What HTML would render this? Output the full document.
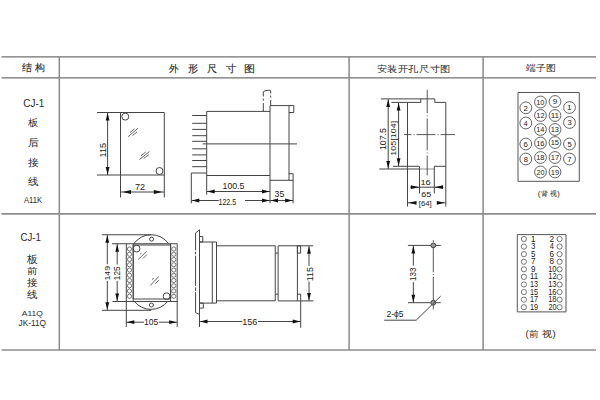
<!DOCTYPE html>
<html><head><meta charset="utf-8"><style>
html,body{margin:0;padding:0;background:#fff;width:600px;height:400px;overflow:hidden}
svg{display:block}
text{font-family:"Liberation Sans", sans-serif}
</style></head><body>
<svg width="600" height="400" viewBox="0 0 600 400">
<line x1="1.5" y1="56.9" x2="596" y2="56.9" stroke="#707070" stroke-width="1.3"/>
<line x1="1.5" y1="77.9" x2="596" y2="77.9" stroke="#707070" stroke-width="1.3"/>
<line x1="1.5" y1="213.9" x2="596" y2="213.9" stroke="#8e8e8e" stroke-width="1.7"/>
<line x1="1.5" y1="350" x2="596" y2="350" stroke="#8e8e8e" stroke-width="1.7"/>
<line x1="59.3" y1="56.8" x2="59.3" y2="350" stroke="#8a8a8a" stroke-width="1.5"/>
<line x1="349.1" y1="56.8" x2="349.1" y2="350" stroke="#8a8a8a" stroke-width="1.5"/>
<line x1="483.1" y1="56.8" x2="483.1" y2="350" stroke="#8a8a8a" stroke-width="1.5"/>
<text transform="translate(21.90,71.46) scale(0.996,1)" font-size="10.32" fill="#2a2a2a" stroke="#2a2a2a" stroke-width="0.15">结 构</text>
<text transform="translate(169.40,71.79) scale(0.954,1)" font-size="10.05" fill="#2a2a2a" stroke="#2a2a2a" stroke-width="0.15">外</text>
<text transform="translate(188.35,71.51) scale(1.016,1)" font-size="9.95" fill="#2a2a2a" stroke="#2a2a2a" stroke-width="0.15">形</text>
<text transform="translate(207.09,71.77) scale(0.994,1)" font-size="10.28" fill="#2a2a2a" stroke="#2a2a2a" stroke-width="0.15">尺</text>
<text transform="translate(225.55,71.73) scale(1.016,1)" font-size="9.74" fill="#2a2a2a" stroke="#2a2a2a" stroke-width="0.15">寸</text>
<text transform="translate(243.59,71.77) scale(1.103,1)" font-size="10.28" fill="#2a2a2a" stroke="#2a2a2a" stroke-width="0.15">图</text>
<text transform="translate(376.59,71.76) scale(1.140,1)" font-size="8.89" fill="#2a2a2a">安装开孔尺寸图</text>
<text transform="translate(525.50,71.28) scale(1.087,1)" font-size="9.36" fill="#2a2a2a">端子图</text>
<text transform="translate(23.25,106.80) scale(0.948,1)" font-size="10.57" fill="#2a2a2a">CJ-1</text>
<text transform="translate(28.00,125.57) scale(1.020,1)" font-size="10.21" fill="#2a2a2a">板</text>
<text transform="translate(27.68,145.81) scale(1.087,1)" font-size="9.89" fill="#2a2a2a">后</text>
<text transform="translate(27.89,165.64) scale(1.086,1)" font-size="9.69" fill="#2a2a2a">接</text>
<text transform="translate(27.89,185.20) scale(1.053,1)" font-size="10.00" fill="#2a2a2a">线</text>
<text transform="translate(23.90,202.50) scale(0.784,1)" font-size="9.78" fill="#2a2a2a">A11K</text>
<line x1="97" y1="112.5" x2="164.3" y2="112.5" stroke="#444" stroke-width="1.0"/>
<line x1="97" y1="175" x2="164.3" y2="175" stroke="#444" stroke-width="1.0"/>
<line x1="120.5" y1="112.5" x2="120.5" y2="197.5" stroke="#444" stroke-width="1.0"/>
<line x1="164.3" y1="112.5" x2="164.3" y2="197.5" stroke="#444" stroke-width="1.0"/>
<line x1="107.6" y1="112.5" x2="107.6" y2="175" stroke="#444" stroke-width="1.0"/>
<polygon points="107.6,113.0 109.50,120.50 105.70,120.50" fill="#111"/>
<polygon points="107.6,174.5 105.70,167.00 109.50,167.00" fill="#111"/>
<text transform="translate(106.25,157.48) rotate(-90) scale(1.009,1)" font-size="9.07" fill="#222">115</text>
<circle cx="125.25" cy="116.6" r="3.5" fill="none" stroke="#444" stroke-width="1.0"/>
<circle cx="159.5" cy="171" r="3.5" fill="none" stroke="#444" stroke-width="1.0"/>
<line x1="128" y1="136.75" x2="138" y2="128.25" stroke="#555" stroke-width="0.9"/>
<line x1="130" y1="132.5" x2="134.5" y2="129" stroke="#555" stroke-width="0.9"/>
<line x1="132.5" y1="135.5" x2="137" y2="132" stroke="#555" stroke-width="0.9"/>
<line x1="139.5" y1="159.5" x2="149.5" y2="151.5" stroke="#555" stroke-width="0.9"/>
<line x1="141" y1="155.75" x2="145.75" y2="152" stroke="#555" stroke-width="0.9"/>
<line x1="143.75" y1="158.5" x2="148.75" y2="154.75" stroke="#555" stroke-width="0.9"/>
<line x1="120.5" y1="192" x2="164.3" y2="192" stroke="#444" stroke-width="1.0"/>
<polygon points="122.5,192 131.00,190.10 131.00,193.90" fill="#111"/>
<polygon points="162.3,192 153.80,193.90 153.80,190.10" fill="#111"/>
<text transform="translate(135.04,190.30) scale(1.012,1)" font-size="9.00" fill="#222">72</text>
<line x1="192.2" y1="115.5" x2="206.7" y2="115.5" stroke="#444" stroke-width="1.0"/>
<line x1="192.2" y1="123.3" x2="206.7" y2="123.3" stroke="#444" stroke-width="1.0"/>
<line x1="192.2" y1="129.4" x2="206.7" y2="129.4" stroke="#444" stroke-width="1.0"/>
<line x1="192.2" y1="135.7" x2="206.7" y2="135.7" stroke="#444" stroke-width="1.0"/>
<line x1="192.2" y1="141.3" x2="206.7" y2="141.3" stroke="#444" stroke-width="1.0"/>
<line x1="192.2" y1="148.8" x2="206.7" y2="148.8" stroke="#444" stroke-width="1.0"/>
<line x1="192.2" y1="154.9" x2="206.7" y2="154.9" stroke="#444" stroke-width="1.0"/>
<line x1="192.2" y1="160.5" x2="206.7" y2="160.5" stroke="#444" stroke-width="1.0"/>
<line x1="192.2" y1="166.7" x2="206.7" y2="166.7" stroke="#444" stroke-width="1.0"/>
<line x1="191.3" y1="173" x2="206.7" y2="173" stroke="#444" stroke-width="1.0"/>
<line x1="191.3" y1="173" x2="191.3" y2="203.3" stroke="#444" stroke-width="1.0"/>
<line x1="206.7" y1="111.4" x2="206.7" y2="194.7" stroke="#444" stroke-width="1.0"/>
<line x1="206.7" y1="111.4" x2="270" y2="111.4" stroke="#444" stroke-width="1.0"/>
<line x1="206.7" y1="175.5" x2="270" y2="175.5" stroke="#444" stroke-width="1.0"/>
<line x1="270" y1="105.6" x2="270" y2="203.3" stroke="#444" stroke-width="1.0"/>
<line x1="270" y1="105.6" x2="293.8" y2="105.6" stroke="#444" stroke-width="1.0"/>
<line x1="289" y1="105.6" x2="289" y2="180.3" stroke="#444" stroke-width="1.0"/>
<line x1="293.8" y1="105.6" x2="293.8" y2="112.5" stroke="#444" stroke-width="1.0"/>
<line x1="289" y1="112.5" x2="293.8" y2="112.5" stroke="#444" stroke-width="1.0"/>
<line x1="289" y1="173.7" x2="293.1" y2="173.7" stroke="#444" stroke-width="1.0"/>
<line x1="293.1" y1="173.7" x2="293.1" y2="203.3" stroke="#444" stroke-width="1.0"/>
<line x1="270" y1="180.3" x2="293.1" y2="180.3" stroke="#444" stroke-width="1.0"/>
<path d="M263.3,96.5 V92 Q263.6,90.9 266,90.6 Q268.5,90.1 270.2,90.3 Q270.7,90.5 270.7,92 V93.5" fill="none" stroke="#444" stroke-width="1"/>
<line x1="263.3" y1="98.6" x2="263.3" y2="100.6" stroke="#444" stroke-width="1.0"/>
<line x1="263.3" y1="103" x2="263.3" y2="111.4" stroke="#444" stroke-width="1.0"/>
<line x1="270.7" y1="95.5" x2="270.7" y2="97.5" stroke="#444" stroke-width="1.0"/>
<line x1="270.7" y1="100" x2="270.7" y2="105.6" stroke="#444" stroke-width="1.0"/>
<line x1="202.7" y1="143.9" x2="297" y2="143.9" stroke="#444" stroke-width="1.0"/>
<line x1="206.7" y1="191.5" x2="270" y2="191.5" stroke="#444" stroke-width="1.0"/>
<polygon points="207.2,191.5 214.70,189.60 214.70,193.40" fill="#111"/>
<polygon points="269.5,191.5 262.00,193.40 262.00,189.60" fill="#111"/>
<text transform="translate(222.60,189.30) scale(1.015,1)" font-size="8.57" fill="#222">100.5</text>
<line x1="191.3" y1="200.5" x2="218.7" y2="200.5" stroke="#444" stroke-width="1.0"/>
<line x1="245" y1="200.5" x2="270" y2="200.5" stroke="#444" stroke-width="1.0"/>
<polygon points="191.8,200.5 199.30,198.60 199.30,202.40" fill="#111"/>
<polygon points="269.5,200.5 262.00,202.40 262.00,198.60" fill="#111"/>
<text transform="translate(218.43,204.70) scale(0.781,1)" font-size="9.14" fill="#222">122.5</text>
<line x1="270" y1="200.5" x2="293.1" y2="200.5" stroke="#444" stroke-width="1.0"/>
<polygon points="270.5,200.5 278.00,198.60 278.00,202.40" fill="#111"/>
<polygon points="292.6,200.5 285.10,202.40 285.10,198.60" fill="#111"/>
<text transform="translate(274.55,197.30) scale(1.037,1)" font-size="8.43" fill="#222">35</text>
<line x1="380.9" y1="98.9" x2="434.8" y2="98.9" stroke="#444" stroke-width="1.0"/>
<polyline points="434.8,98.9 434.8,102.4 445.8,102.4 445.8,206.5" fill="none" stroke="#444" stroke-width="1.0"/>
<polyline points="391.4,102.4 420.8,102.4 420.8,98.9" fill="none" stroke="#444" stroke-width="1.0"/>
<line x1="407.5" y1="102.4" x2="407.5" y2="206.5" stroke="#444" stroke-width="1.0"/>
<line x1="427.2" y1="89.8" x2="427.2" y2="113.2" stroke="#444" stroke-width="0.9"/>
<line x1="427.2" y1="115.4" x2="427.2" y2="116.4" stroke="#444" stroke-width="0.9"/>
<line x1="427.2" y1="118.4" x2="427.2" y2="150.3" stroke="#444" stroke-width="0.9"/>
<line x1="427.2" y1="152.5" x2="427.2" y2="153.5" stroke="#444" stroke-width="0.9"/>
<line x1="427.2" y1="155.5" x2="427.2" y2="175.5" stroke="#444" stroke-width="0.9"/>
<line x1="404" y1="134.6" x2="411.5" y2="134.6" stroke="#444" stroke-width="0.9"/>
<line x1="413.5" y1="134.6" x2="414.5" y2="134.6" stroke="#444" stroke-width="0.9"/>
<line x1="416.5" y1="134.6" x2="435.5" y2="134.6" stroke="#444" stroke-width="0.9"/>
<line x1="437.5" y1="134.6" x2="438.5" y2="134.6" stroke="#444" stroke-width="0.9"/>
<line x1="440.5" y1="134.6" x2="455" y2="134.6" stroke="#444" stroke-width="0.9"/>
<line x1="379.3" y1="169" x2="420" y2="169" stroke="#444" stroke-width="1.0"/>
<line x1="420" y1="169" x2="434.3" y2="169" stroke="#444" stroke-width="0.6"/>
<polyline points="393,166.3 419.5,166.3 419.5,193.4" fill="none" stroke="#444" stroke-width="1.0"/>
<polyline points="445.5,166.3 434.3,166.3 434.3,193.4" fill="none" stroke="#444" stroke-width="1.0"/>
<line x1="388.2" y1="99" x2="388.2" y2="169" stroke="#444" stroke-width="1.0"/>
<polygon points="388.2,99.5 390.10,107.00 386.30,107.00" fill="#111"/>
<polygon points="388.2,168.5 386.30,161.00 390.10,161.00" fill="#111"/>
<line x1="398.6" y1="102.4" x2="398.6" y2="166.3" stroke="#444" stroke-width="1.0"/>
<polygon points="398.6,102.9 400.50,110.40 396.70,110.40" fill="#111"/>
<polygon points="398.6,165.8 396.70,158.30 400.50,158.30" fill="#111"/>
<text transform="translate(386.25,150.00) rotate(-90) scale(1.046,1)" font-size="8.36" fill="#222">107.5</text>
<text transform="translate(395.80,155.72) rotate(-90) scale(1.120,1)" font-size="8.00" fill="#222">105[104]</text>
<line x1="410.3" y1="187.2" x2="443.5" y2="187.2" stroke="#444" stroke-width="1.0"/>
<polygon points="419.3,187.2 410.80,189.10 410.80,185.30" fill="#111"/>
<polygon points="434.5,187.2 443.00,185.30 443.00,189.10" fill="#111"/>
<text transform="translate(420.46,185.30) scale(1.183,1)" font-size="7.86" fill="#222">16</text>
<text transform="translate(421.15,196.90) scale(1.191,1)" font-size="7.57" fill="#222">65</text>
<line x1="408" y1="202.8" x2="416.5" y2="202.8" stroke="#444" stroke-width="1.0"/>
<line x1="437" y1="202.8" x2="445.6" y2="202.8" stroke="#444" stroke-width="1.0"/>
<polygon points="408.5,202.8 416.50,200.90 416.50,204.70" fill="#111"/>
<polygon points="444.8,202.8 436.80,204.70 436.80,200.90" fill="#111"/>
<text transform="translate(418.86,206.15) scale(0.984,1)" font-size="7.87" fill="#222">[64]</text>
<polyline points="518,92.5 579.3,92.5 579.3,181.3 518,181.3 518,92.5" fill="none" stroke="#555" stroke-width="1.0"/>
<circle cx="540.5" cy="102" r="5.9" fill="none" stroke="#555" stroke-width="0.9"/>
<text transform="translate(536.20,104.90) scale(0.951,1)" font-size="7.86" fill="#222">10</text>
<circle cx="555" cy="101.5" r="5.9" fill="none" stroke="#555" stroke-width="0.9"/>
<text transform="translate(552.81,104.40) scale(0.996,1)" font-size="7.86" fill="#222">9</text>
<circle cx="525.8" cy="107.8" r="5.9" fill="none" stroke="#555" stroke-width="0.9"/>
<text transform="translate(523.61,110.70) scale(0.996,1)" font-size="7.86" fill="#222">2</text>
<circle cx="569.5" cy="107.5" r="5.9" fill="none" stroke="#555" stroke-width="0.9"/>
<text transform="translate(567.03,110.40) scale(1.066,1)" font-size="7.86" fill="#222">1</text>
<circle cx="540.5" cy="115.5" r="5.9" fill="none" stroke="#555" stroke-width="0.9"/>
<text transform="translate(536.20,118.40) scale(0.961,1)" font-size="7.86" fill="#222">12</text>
<circle cx="555" cy="115.5" r="5.9" fill="none" stroke="#555" stroke-width="0.9"/>
<text transform="translate(550.65,118.40) scale(1.035,1)" font-size="7.86" fill="#222">11</text>
<circle cx="525.8" cy="123" r="5.9" fill="none" stroke="#555" stroke-width="0.9"/>
<text transform="translate(523.86,125.90) scale(0.898,1)" font-size="7.86" fill="#222">4</text>
<circle cx="569.5" cy="122.5" r="5.9" fill="none" stroke="#555" stroke-width="0.9"/>
<text transform="translate(567.39,125.40) scale(0.975,1)" font-size="7.86" fill="#222">3</text>
<circle cx="540.5" cy="129.5" r="5.9" fill="none" stroke="#555" stroke-width="0.9"/>
<text transform="translate(536.21,132.40) scale(0.942,1)" font-size="7.86" fill="#222">14</text>
<circle cx="555" cy="129.5" r="5.9" fill="none" stroke="#555" stroke-width="0.9"/>
<text transform="translate(550.70,132.40) scale(0.951,1)" font-size="7.86" fill="#222">13</text>
<circle cx="540.5" cy="143" r="5.9" fill="none" stroke="#555" stroke-width="0.9"/>
<text transform="translate(536.20,145.90) scale(0.951,1)" font-size="7.86" fill="#222">16</text>
<circle cx="555" cy="142.5" r="5.9" fill="none" stroke="#555" stroke-width="0.9"/>
<text transform="translate(550.70,145.40) scale(0.951,1)" font-size="7.86" fill="#222">15</text>
<circle cx="525.8" cy="144" r="5.9" fill="none" stroke="#555" stroke-width="0.9"/>
<text transform="translate(523.61,146.90) scale(0.996,1)" font-size="7.86" fill="#222">6</text>
<circle cx="569.5" cy="144" r="5.9" fill="none" stroke="#555" stroke-width="0.9"/>
<text transform="translate(567.39,146.90) scale(0.975,1)" font-size="7.86" fill="#222">5</text>
<circle cx="540.5" cy="157.5" r="5.9" fill="none" stroke="#555" stroke-width="0.9"/>
<text transform="translate(536.20,160.40) scale(0.951,1)" font-size="7.86" fill="#222">18</text>
<circle cx="555" cy="157.5" r="5.9" fill="none" stroke="#555" stroke-width="0.9"/>
<text transform="translate(550.70,160.40) scale(0.961,1)" font-size="7.86" fill="#222">17</text>
<circle cx="525.8" cy="159" r="5.9" fill="none" stroke="#555" stroke-width="0.9"/>
<text transform="translate(523.69,161.90) scale(0.975,1)" font-size="7.86" fill="#222">8</text>
<circle cx="569.5" cy="159" r="5.9" fill="none" stroke="#555" stroke-width="0.9"/>
<text transform="translate(567.31,161.90) scale(0.996,1)" font-size="7.86" fill="#222">7</text>
<circle cx="540.5" cy="172" r="5.9" fill="none" stroke="#555" stroke-width="0.9"/>
<text transform="translate(536.44,174.90) scale(0.923,1)" font-size="7.86" fill="#222">20</text>
<circle cx="555" cy="172" r="5.9" fill="none" stroke="#555" stroke-width="0.9"/>
<text transform="translate(550.70,174.90) scale(0.961,1)" font-size="7.86" fill="#222">19</text>
<text transform="translate(537.79,196.20) scale(1.047,1)" font-size="8.09" fill="#2a2a2a">(</text>
<text transform="translate(541.16,196.23) scale(0.987,1)" font-size="7.14" fill="#2a2a2a">背</text>
<text transform="translate(549.85,196.42) scale(1.018,1)" font-size="7.37" fill="#2a2a2a">视</text>
<text transform="translate(557.32,196.20) scale(0.951,1)" font-size="8.09" fill="#2a2a2a">)</text>
<text transform="translate(20.51,241.00) scale(0.943,1)" font-size="10.29" fill="#2a2a2a">CJ-1</text>
<text transform="translate(27.00,263.02) scale(0.979,1)" font-size="10.64" fill="#2a2a2a">板</text>
<text transform="translate(26.79,274.41) scale(1.163,1)" font-size="9.15" fill="#2a2a2a">前</text>
<text transform="translate(26.89,286.21) scale(1.064,1)" font-size="9.90" fill="#2a2a2a">接</text>
<text transform="translate(26.89,297.80) scale(1.053,1)" font-size="10.00" fill="#2a2a2a">线</text>
<text transform="translate(21.80,315.60) scale(1.045,1)" font-size="8.12" fill="#2a2a2a">A11Q</text>
<text transform="translate(18.53,325.60) scale(0.982,1)" font-size="8.43" fill="#2a2a2a">JK-11Q</text>
<line x1="101.9" y1="234.75" x2="151.25" y2="234.75" stroke="#444" stroke-width="1.0"/>
<line x1="112" y1="243.75" x2="177.25" y2="243.75" stroke="#444" stroke-width="1.0"/>
<line x1="102" y1="310.3" x2="151.25" y2="310.3" stroke="#444" stroke-width="1.0"/>
<line x1="112.5" y1="301.5" x2="177.3" y2="301.5" stroke="#444" stroke-width="1.0"/>
<line x1="107.3" y1="234.75" x2="107.3" y2="264.2" stroke="#444" stroke-width="1.0"/>
<line x1="107.3" y1="280.8" x2="107.3" y2="310.3" stroke="#444" stroke-width="1.0"/>
<polygon points="107.3,235.25 109.20,242.75 105.40,242.75" fill="#111"/>
<polygon points="107.3,309.8 105.40,302.30 109.20,302.30" fill="#111"/>
<line x1="117.2" y1="243.75" x2="117.2" y2="264.6" stroke="#444" stroke-width="1.0"/>
<line x1="117.2" y1="280.8" x2="117.2" y2="301.5" stroke="#444" stroke-width="1.0"/>
<polygon points="117.2,244.25 119.10,251.75 115.30,251.75" fill="#111"/>
<polygon points="117.2,301.0 115.30,293.50 119.10,293.50" fill="#111"/>
<text transform="translate(110.25,280.60) rotate(-90) scale(1.086,1)" font-size="8.07" fill="#222">149</text>
<text transform="translate(119.90,280.16) rotate(-90) scale(1.006,1)" font-size="8.14" fill="#222">125</text>
<line x1="126.3" y1="243.75" x2="126.3" y2="327" stroke="#444" stroke-width="1.0"/>
<line x1="177.2" y1="243.75" x2="177.2" y2="327" stroke="#444" stroke-width="1.0"/>
<line x1="133.2" y1="243.75" x2="133.2" y2="301.5" stroke="#444" stroke-width="1.0"/>
<line x1="170.6" y1="243.75" x2="170.6" y2="301.5" stroke="#444" stroke-width="1.0"/>
<polyline points="133.2,245 170.6,245 170.6,299 133.2,299 133.2,245" fill="none" stroke="#444" stroke-width="1.0"/>
<path d="M133.75,243.75 A21.5,21.5 0 0 1 168.75,243.75" fill="none" stroke="#444" stroke-width="1.0"/>
<path d="M134.4,301.5 A21.5,21.5 0 0 0 167.7,301.5" fill="none" stroke="#444" stroke-width="1.0"/>
<circle cx="151.6" cy="239.1" r="2" fill="none" stroke="#444" stroke-width="1.0"/>
<circle cx="151.4" cy="305" r="2" fill="none" stroke="#444" stroke-width="1.0"/>
<circle cx="136.6" cy="248.6" r="3.4" fill="none" stroke="#444" stroke-width="1.0"/>
<circle cx="166.6" cy="296.2" r="3.4" fill="none" stroke="#444" stroke-width="1.0"/>
<line x1="138.25" y1="259.5" x2="146.75" y2="251.25" stroke="#555" stroke-width="0.9"/>
<line x1="140" y1="254.25" x2="141.5" y2="253" stroke="#555" stroke-width="0.9"/>
<line x1="143" y1="258.5" x2="147" y2="254.5" stroke="#555" stroke-width="0.9"/>
<line x1="150.25" y1="285.5" x2="158.75" y2="276.5" stroke="#555" stroke-width="0.9"/>
<line x1="152" y1="279.5" x2="153.75" y2="278.25" stroke="#555" stroke-width="0.9"/>
<line x1="155.25" y1="283.75" x2="158.75" y2="280.25" stroke="#555" stroke-width="0.9"/>
<circle cx="129.5" cy="249.0" r="2.1" fill="none" stroke="#555" stroke-width="0.8"/>
<circle cx="173.8" cy="249.0" r="2.1" fill="none" stroke="#555" stroke-width="0.8"/>
<circle cx="129.5" cy="254.25" r="2.1" fill="none" stroke="#555" stroke-width="0.8"/>
<circle cx="173.8" cy="254.25" r="2.1" fill="none" stroke="#555" stroke-width="0.8"/>
<circle cx="129.5" cy="259.5" r="2.1" fill="none" stroke="#555" stroke-width="0.8"/>
<circle cx="173.8" cy="259.5" r="2.1" fill="none" stroke="#555" stroke-width="0.8"/>
<circle cx="129.5" cy="264.75" r="2.1" fill="none" stroke="#555" stroke-width="0.8"/>
<circle cx="173.8" cy="264.75" r="2.1" fill="none" stroke="#555" stroke-width="0.8"/>
<circle cx="129.5" cy="270.0" r="2.1" fill="none" stroke="#555" stroke-width="0.8"/>
<circle cx="173.8" cy="270.0" r="2.1" fill="none" stroke="#555" stroke-width="0.8"/>
<circle cx="129.5" cy="275.25" r="2.1" fill="none" stroke="#555" stroke-width="0.8"/>
<circle cx="173.8" cy="275.25" r="2.1" fill="none" stroke="#555" stroke-width="0.8"/>
<circle cx="129.5" cy="280.5" r="2.1" fill="none" stroke="#555" stroke-width="0.8"/>
<circle cx="173.8" cy="280.5" r="2.1" fill="none" stroke="#555" stroke-width="0.8"/>
<circle cx="129.5" cy="285.75" r="2.1" fill="none" stroke="#555" stroke-width="0.8"/>
<circle cx="173.8" cy="285.75" r="2.1" fill="none" stroke="#555" stroke-width="0.8"/>
<circle cx="129.5" cy="291.0" r="2.1" fill="none" stroke="#555" stroke-width="0.8"/>
<circle cx="173.8" cy="291.0" r="2.1" fill="none" stroke="#555" stroke-width="0.8"/>
<circle cx="129.5" cy="296.25" r="2.1" fill="none" stroke="#555" stroke-width="0.8"/>
<circle cx="173.8" cy="296.25" r="2.1" fill="none" stroke="#555" stroke-width="0.8"/>
<line x1="126.3" y1="322.2" x2="144" y2="322.2" stroke="#444" stroke-width="1.0"/>
<line x1="158.9" y1="322.2" x2="177.2" y2="322.2" stroke="#444" stroke-width="1.0"/>
<polygon points="126.8,322.2 134.30,320.30 134.30,324.10" fill="#111"/>
<polygon points="176.7,322.2 169.20,324.10 169.20,320.30" fill="#111"/>
<text transform="translate(143.91,324.80) scale(1.018,1)" font-size="8.43" fill="#222">105</text>
<line x1="199.5" y1="229.8" x2="199.5" y2="327" stroke="#444" stroke-width="1.0"/>
<line x1="195.5" y1="233" x2="199.5" y2="229.8" stroke="#444" stroke-width="1.0"/>
<line x1="195.5" y1="312.5" x2="199.5" y2="314.4" stroke="#444" stroke-width="1.0"/>
<line x1="195.6" y1="233" x2="195.6" y2="250.3" stroke="#444" stroke-width="1.0"/>
<line x1="195.6" y1="251.7" x2="195.6" y2="254.4" stroke="#444" stroke-width="1.0"/>
<line x1="195.6" y1="255.8" x2="195.6" y2="285.9" stroke="#444" stroke-width="1.0"/>
<line x1="195.6" y1="287.3" x2="195.6" y2="290.9" stroke="#444" stroke-width="1.0"/>
<line x1="195.6" y1="292.3" x2="195.6" y2="312.5" stroke="#444" stroke-width="1.0"/>
<polyline points="199.5,236.5 202.8,236.5 202.8,242 199.5,242 199.5,236.5" fill="none" stroke="#444" stroke-width="1.0"/>
<polyline points="199.5,303.1 203.3,303.1 203.3,308.1 199.5,308.1 199.5,303.1" fill="none" stroke="#444" stroke-width="1.0"/>
<polyline points="199.5,242 216.5,242 216.5,303.1 199.5,303.1 199.5,242" fill="none" stroke="#444" stroke-width="1.0"/>
<line x1="212.3" y1="242" x2="212.3" y2="303.1" stroke="#444" stroke-width="1.0"/>
<line x1="216.5" y1="245.8" x2="275.25" y2="245.8" stroke="#444" stroke-width="1.0"/>
<line x1="216.5" y1="300.8" x2="275.25" y2="300.8" stroke="#444" stroke-width="1.0"/>
<line x1="275.25" y1="245.8" x2="275.25" y2="300.8" stroke="#444" stroke-width="1.0"/>
<line x1="278.1" y1="245.8" x2="278.1" y2="300.8" stroke="#444" stroke-width="1.0"/>
<line x1="275.25" y1="253.1" x2="278.1" y2="253.1" stroke="#444" stroke-width="1.0"/>
<line x1="275.25" y1="294.2" x2="278.1" y2="294.2" stroke="#444" stroke-width="1.0"/>
<line x1="278.1" y1="245.8" x2="313.1" y2="245.8" stroke="#444" stroke-width="1.0"/>
<line x1="278.1" y1="300.9" x2="313.5" y2="300.9" stroke="#444" stroke-width="1.0"/>
<line x1="297.4" y1="245.8" x2="297.4" y2="300.9" stroke="#444" stroke-width="1.0"/>
<polyline points="297.4,245.8 300.6,245.8 300.6,253.1 297.4,253.1 297.4,245.8" fill="none" stroke="#444" stroke-width="1.0"/>
<line x1="300.7" y1="294.2" x2="300.7" y2="327.8" stroke="#444" stroke-width="1.0"/>
<line x1="297.4" y1="294.2" x2="300.7" y2="294.2" stroke="#444" stroke-width="1.0"/>
<line x1="309" y1="245.8" x2="309" y2="266" stroke="#444" stroke-width="1.0"/>
<line x1="309" y1="281.5" x2="309" y2="300.9" stroke="#444" stroke-width="1.0"/>
<polygon points="309,246.3 310.90,253.80 307.10,253.80" fill="#111"/>
<polygon points="309,300.4 307.10,292.90 310.90,292.90" fill="#111"/>
<text transform="translate(312.80,281.21) rotate(-90) scale(0.938,1)" font-size="9.43" fill="#222">115</text>
<line x1="199.5" y1="321.5" x2="242.3" y2="321.5" stroke="#444" stroke-width="1.0"/>
<line x1="258" y1="321.5" x2="300.7" y2="321.5" stroke="#444" stroke-width="1.0"/>
<polygon points="200.0,321.5 207.50,319.60 207.50,323.40" fill="#111"/>
<polygon points="300.2,321.5 292.70,323.40 292.70,319.60" fill="#111"/>
<text transform="translate(242.27,325.00) scale(1.116,1)" font-size="8.14" fill="#222">156</text>
<line x1="407.9" y1="245.4" x2="440.8" y2="245.4" stroke="#444" stroke-width="1.0"/>
<line x1="408" y1="302.7" x2="440.7" y2="302.7" stroke="#444" stroke-width="1.0"/>
<line x1="433.3" y1="240.2" x2="433.3" y2="242.3" stroke="#444" stroke-width="0.9"/>
<line x1="433.3" y1="243.3" x2="433.3" y2="272.3" stroke="#444" stroke-width="0.9"/>
<line x1="433.3" y1="274" x2="433.3" y2="275" stroke="#444" stroke-width="0.9"/>
<line x1="433.3" y1="276.7" x2="433.3" y2="309.3" stroke="#444" stroke-width="0.9"/>
<circle cx="433.3" cy="245.4" r="2.4" fill="#999" stroke="#444" stroke-width="1"/>
<circle cx="433.3" cy="302.7" r="2.4" fill="#999" stroke="#444" stroke-width="1"/>
<line x1="413.35" y1="245.4" x2="413.35" y2="265.6" stroke="#444" stroke-width="1.0"/>
<line x1="413.35" y1="282.1" x2="413.35" y2="302.7" stroke="#444" stroke-width="1.0"/>
<polygon points="413.35,245.9 415.25,253.40 411.45,253.40" fill="#111"/>
<polygon points="413.35,302.2 411.45,294.70 415.25,294.70" fill="#111"/>
<text transform="translate(416.10,280.89) rotate(-90) scale(0.936,1)" font-size="8.57" fill="#222">133</text>
<polyline points="440.7,296.1 416.2,320.2 384.2,320.2" fill="none" stroke="#444" stroke-width="1.0"/>
<text transform="translate(386.57,317.00) scale(1.036,1)" font-size="8.21" fill="#222">2-ϕ5</text>
<polyline points="517.3,234.6 566,234.6 566,311.9 517.3,311.9 517.3,234.6" fill="none" stroke="#555" stroke-width="1.0"/>
<circle cx="523.9" cy="239.0" r="2.6" fill="none" stroke="#555" stroke-width="0.8"/>
<circle cx="559.6" cy="239.0" r="2.6" fill="none" stroke="#555" stroke-width="0.8"/>
<text transform="translate(530.71,241.50) scale(1.057,1)" font-size="8.14" fill="#222">1</text>
<text transform="translate(549.39,241.50) scale(1.014,1)" font-size="8.14" fill="#222">2</text>
<circle cx="523.9" cy="246.58" r="2.6" fill="none" stroke="#555" stroke-width="0.8"/>
<circle cx="559.6" cy="246.58" r="2.6" fill="none" stroke="#555" stroke-width="0.8"/>
<text transform="translate(531.09,249.08) scale(0.967,1)" font-size="8.14" fill="#222">3</text>
<text transform="translate(549.65,249.08) scale(0.915,1)" font-size="8.14" fill="#222">4</text>
<circle cx="523.9" cy="254.16" r="2.6" fill="none" stroke="#555" stroke-width="0.8"/>
<circle cx="559.6" cy="254.16" r="2.6" fill="none" stroke="#555" stroke-width="0.8"/>
<text transform="translate(531.09,256.66) scale(0.967,1)" font-size="8.14" fill="#222">5</text>
<text transform="translate(549.39,256.66) scale(1.014,1)" font-size="8.14" fill="#222">6</text>
<circle cx="523.9" cy="261.74" r="2.6" fill="none" stroke="#555" stroke-width="0.8"/>
<circle cx="559.6" cy="261.74" r="2.6" fill="none" stroke="#555" stroke-width="0.8"/>
<text transform="translate(531.00,264.24) scale(0.988,1)" font-size="8.14" fill="#222">7</text>
<text transform="translate(549.48,264.24) scale(0.993,1)" font-size="8.14" fill="#222">8</text>
<circle cx="523.9" cy="269.32" r="2.6" fill="none" stroke="#555" stroke-width="0.8"/>
<circle cx="559.6" cy="269.32" r="2.6" fill="none" stroke="#555" stroke-width="0.8"/>
<text transform="translate(531.00,271.82) scale(0.988,1)" font-size="8.14" fill="#222">9</text>
<text transform="translate(548.20,271.82) scale(0.918,1)" font-size="8.14" fill="#222">10</text>
<circle cx="523.9" cy="276.9" r="2.6" fill="none" stroke="#555" stroke-width="0.8"/>
<circle cx="559.6" cy="276.9" r="2.6" fill="none" stroke="#555" stroke-width="0.8"/>
<text transform="translate(529.97,279.40) scale(0.972,1)" font-size="8.14" fill="#222">11</text>
<text transform="translate(548.20,279.40) scale(0.927,1)" font-size="8.14" fill="#222">12</text>
<circle cx="523.9" cy="284.48" r="2.6" fill="none" stroke="#555" stroke-width="0.8"/>
<circle cx="559.6" cy="284.48" r="2.6" fill="none" stroke="#555" stroke-width="0.8"/>
<text transform="translate(530.02,286.98) scale(0.893,1)" font-size="8.14" fill="#222">13</text>
<text transform="translate(548.20,286.98) scale(0.918,1)" font-size="8.14" fill="#222">13</text>
<circle cx="523.9" cy="292.06" r="2.6" fill="none" stroke="#555" stroke-width="0.8"/>
<circle cx="559.6" cy="292.06" r="2.6" fill="none" stroke="#555" stroke-width="0.8"/>
<text transform="translate(530.02,294.56) scale(0.893,1)" font-size="8.14" fill="#222">15</text>
<text transform="translate(548.20,294.56) scale(0.918,1)" font-size="8.14" fill="#222">16</text>
<circle cx="523.9" cy="299.64" r="2.6" fill="none" stroke="#555" stroke-width="0.8"/>
<circle cx="559.6" cy="299.64" r="2.6" fill="none" stroke="#555" stroke-width="0.8"/>
<text transform="translate(530.01,302.14) scale(0.902,1)" font-size="8.14" fill="#222">17</text>
<text transform="translate(548.20,302.14) scale(0.918,1)" font-size="8.14" fill="#222">18</text>
<circle cx="523.9" cy="307.22" r="2.6" fill="none" stroke="#555" stroke-width="0.8"/>
<circle cx="559.6" cy="307.22" r="2.6" fill="none" stroke="#555" stroke-width="0.8"/>
<text transform="translate(530.01,309.72) scale(0.902,1)" font-size="8.14" fill="#222">19</text>
<text transform="translate(548.44,309.72) scale(0.891,1)" font-size="8.14" fill="#222">20</text>
<text transform="translate(525.52,336.82) scale(0.972,1)" font-size="9.89" fill="#2a2a2a">(</text>
<text transform="translate(528.91,336.84) scale(1.083,1)" font-size="8.94" fill="#2a2a2a">前</text>
<text transform="translate(541.90,336.94) scale(1.131,1)" font-size="8.84" fill="#2a2a2a">视</text>
<text transform="translate(552.20,336.82) scale(1.050,1)" font-size="9.89" fill="#2a2a2a">)</text>
</svg>
</body></html>
